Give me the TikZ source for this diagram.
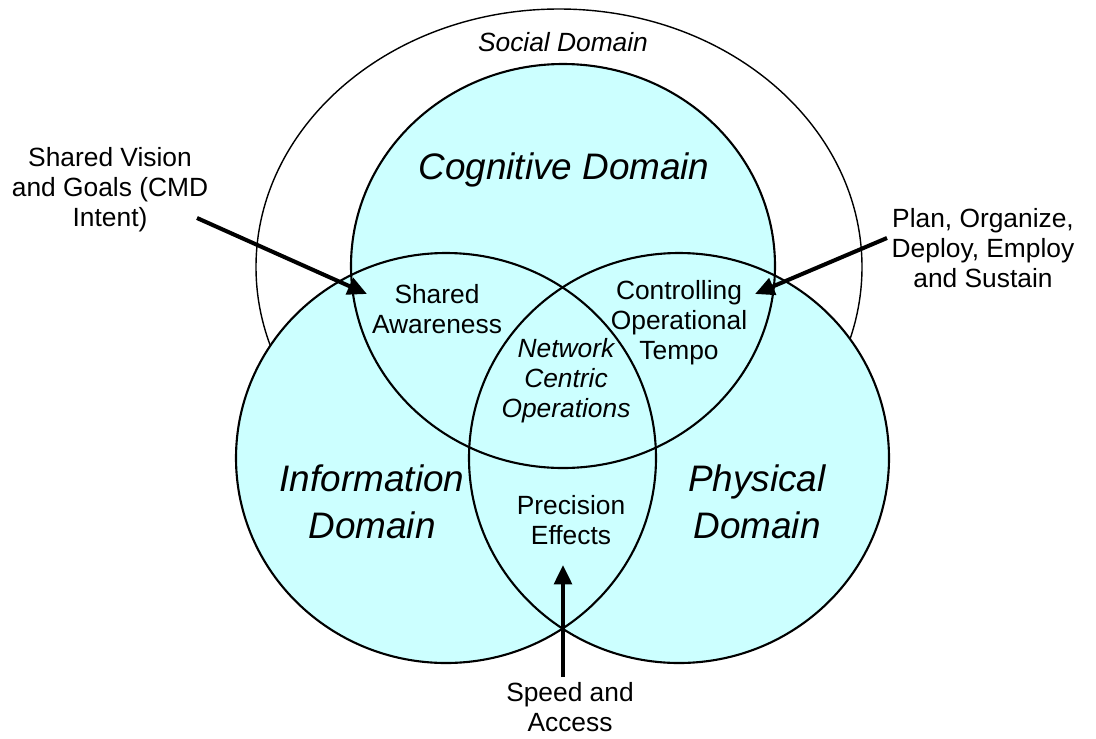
\documentclass[tikz,border=0pt]{standalone}
\usepackage{fontspec}
\setmainfont{Liberation Sans}
\usetikzlibrary{arrows.meta}
\definecolor{domainfill}{RGB}{204,255,255}

\begin{document}
\begin{tikzpicture}[x=0.02cm, y=-0.02cm,
    rim/.style={draw=black, line width=1.2pt},
    small/.style={align=center, font=\fontsize{15}{17}\selectfont},
    smallit/.style={align=center, font=\fontsize{15}{17}\selectfont\itshape},
    big/.style={align=center, font=\fontsize{21}{26.6}\selectfont\itshape},
    pointer/.style={-{Triangle[length=11pt, width=10pt]}, line width=2.3pt}]
  \useasboundingbox (0, 0) rectangle (1096, 738);
  \draw[fill=white, line width=0.8pt] (559, 267) ellipse [x radius=303, y radius=258];
  \fill[domainfill] (563, 266) ellipse [x radius=212, y radius=202];
  \fill[domainfill] (446, 458) ellipse [x radius=210, y radius=205];
  \fill[domainfill] (679, 458) ellipse [x radius=210, y radius=205];
  \draw[rim] (563, 266) ellipse [x radius=212, y radius=202];
  \draw[rim] (446, 458) ellipse [x radius=210, y radius=205];
  \draw[rim] (679, 458) ellipse [x radius=210, y radius=205];

  \node[smallit] (social) at (563, 42) {Social Domain};
  \node[big] (cognitive) at (564, 170) {Cognitive Domain};
  \node[big] (information) at (372, 502) {Information\\Domain};
  \node[big] (physical) at (757, 502) {Physical\\Domain};
  \node[small] (awareness) at (437, 309) {Shared\\Awareness};
  \node[small] (tempo) at (679, 323) {Controlling\\Operational\\Tempo};
  \node[smallit] (nco) at (566, 381) {Network\\Centric\\Operations};
  \node[small] (precision) at (571, 520) {Precision\\Effects};
  \node[small] (vision) at (110, 190) {Shared Vision\\and Goals (CMD\\Intent)};
  \node[small] (sustain) at (983, 248) {Plan, Organize,\\Deploy, Employ\\and Sustain};
  \node[small] (speed) at (570, 707) {Speed and\\Access};

  \coordinate (visiontail) at (197, 218);
  \coordinate (visiontip) at (367, 294);
  \coordinate (sustaintail) at (887, 238);
  \coordinate (sustaintip) at (755, 294);
  \coordinate (speedtail) at (563, 677);
  \coordinate (speedtip) at (563, 565);
  \draw[pointer] (visiontail) -- (visiontip);
  \draw[pointer] (sustaintail) -- (sustaintip);
  \draw[pointer] (speedtail) -- (speedtip);
\end{tikzpicture}
\end{document}
